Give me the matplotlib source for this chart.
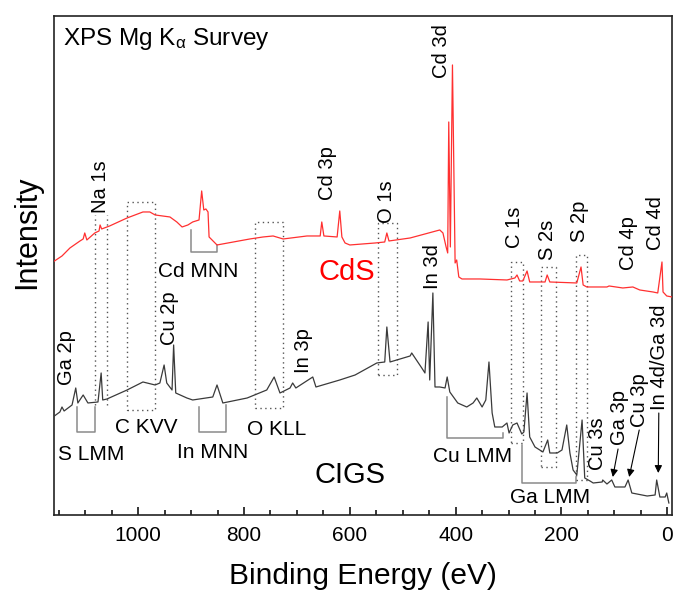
import matplotlib
matplotlib.use("Agg")
import matplotlib.pyplot as plt
from matplotlib.ticker import MultipleLocator

plt.rcParams["font.family"] = ["Liberation Sans", "DejaVu Sans"]
plt.rcParams["mathtext.fontset"] = "custom"
plt.rcParams["mathtext.rm"] = "Liberation Sans"
plt.rcParams["mathtext.it"] = "Liberation Sans"

# --- survey spectra: binding energy (eV) / intensity (a.u.) ---
cds_be = [1161, 1144, 1129, 1110, 1104, 1101, 1097, 1082, 1074, 1072,
          1069, 1054, 1021, 991, 978, 968, 940, 927, 917, 906,
          897, 885, 880, 876, 872, 868, 866, 851, 789, 764,
          745, 726, 681, 656, 653, 649, 624, 619, 615, 609,
          600, 552, 534, 530, 526, 486, 458, 430, 424, 418,
          415, 413, 410, 406, 401, 398, 394, 388, 354, 303,
          288, 284, 279, 273, 265, 260, 231, 227, 222, 171,
          163, 159, 152, 114, 110, 84, 65, 52, 27, 18,
          10, 8, 1, -9]
cds_int = [253, 259, 267, 274, 276, 282, 275, 282, 284, 290,
           286, 289, 297, 303, 303, 300, 298, 293, 288, 290,
           293, 295, 324, 305, 306, 303, 278, 270, 276, 278,
           279, 276, 279, 279, 293, 279, 278, 304, 278, 272,
           270, 272, 273, 282, 274, 277, 281, 285, 282, 268,
           262, 393, 268, 450, 252, 255, 238, 236, 236, 235,
           237, 240, 234, 234, 244, 233, 233, 240, 233, 232,
           248, 230, 228, 228, 229, 227, 228, 225, 223, 222,
           253, 223, 219, 218]

cigs_be = [1161, 1148, 1144, 1140, 1125, 1118, 1114, 1104, 1095, 1076,
           1070, 1067, 1059, 1021, 991, 968, 959, 951, 946, 936,
           933, 929, 908, 897, 859, 851, 840, 794, 757, 743,
           732, 713, 708, 702, 670, 664, 619, 590, 549, 534,
           530, 524, 486, 483, 464, 458, 452, 449, 443, 439,
           430, 420, 416, 411, 396, 379, 367, 360, 350, 343,
           337, 331, 326, 312, 303, 299, 292, 284, 275, 271,
           265, 260, 250, 235, 226, 222, 208, 199, 190, 184,
           178, 171, 161, 156, 146, 140, 123, 122, 114, 105,
           99, 80, 74, 67, 38, 23, 20, 14, 4, 1,
           -3]
cigs_int = [98, 103, 108, 104, 110, 127, 112, 120, 112, 113,
            142, 115, 116, 125, 133, 130, 132, 150, 132, 125,
            170, 122, 117, 115, 118, 130, 112, 117, 125, 138,
            122, 127, 132, 127, 138, 128, 135, 140, 152, 153,
            188, 153, 159, 162, 147, 142, 193, 135, 222, 128,
            128, 127, 138, 123, 112, 108, 112, 117, 108, 115,
            153, 102, 88, 88, 92, 82, 90, 92, 81, 83,
            122, 78, 68, 63, 75, 62, 62, 65, 90, 62,
            45, 40, 95, 37, 34, 32, 33, 35, 31, 35,
            28, 28, 35, 22, 19, 20, 35, 18, 18, 22,
            12]

# peak assignments (vertical labels): name, energy, lower end of label
peak_names = ["Na 1s", "Cd 3p", "O 1s", "Cd 3d", "In 3d", "C 1s", "S 2s",
              "S 2p", "Cd 4p", "Cd 4d", "Ga 2p", "Cu 2p", "In 3p", "Cu 3s",
              "Ga 3p", "Cu 3p", "In 4d/Ga 3d"]
peak_be = [1072, 643, 530, 426, 443, 288, 227, 165, 74, 23, 1135, 940, 687,
           132, 91, 52, 15]
peak_lo = [302, 315, 292, 437, 226, 267, 255, 273, 245, 265, 130, 170, 142,
           45, 70, 88, 105]

# Auger features: name, left edge energy, text baseline
auger_names = ["Cd MNN", "C KVV", "S LMM", "In MNN", "O KLL", "Cu LMM", "Ga LMM"]
auger_be = [963, 1044, 1152, 927, 795, 443, 297]
auger_base = [238, 82, 55, 57, 80, 53, 12]

# Auger brackets: left energy, right energy, left top, right top, bottom
bracket_l = [900, 1116, 885, 416, 275]
bracket_r = [851, 1082, 834, 311, 172]
bracket_lt = [285, 108, 108, 118, 70]
bracket_rt = [270, 108, 110, 82, 38]
bracket_bot = [263, 83, 83, 77, 32]

# dotted regions: left, right, bottom, top (Na 1s has no horizontal edges)
box_l = [1082, 1021, 779, 547, 295, 239, 172]
box_r = [1059, 968, 726, 511, 273, 210, 152]
box_b = [110, 105, 107, 140, 72, 48, 35]
box_t = [300, 313, 293, 292, 253, 248, 260]

# arrows to the weak CIGS lines: tail and head
arrow_x0 = [93, 53, 16]
arrow_y0 = [66, 85, 102]
arrow_x1 = [103, 72, 17]
arrow_y1 = [38, 38, 42]

fig, ax = plt.subplots(figsize=(6.75, 5.91), dpi=100)
fig.subplots_adjust(left=0.0793, right=0.9956, bottom=0.1286, top=0.973)

for i in range(len(box_l)):
    l, r, b, t = box_l[i], box_r[i], box_b[i], box_t[i]
    if i == 0:
        ax.plot([l, l], [b, t], ls=(0, (1, 2.5)), color="#555555", lw=1)
        ax.plot([r, r], [b, t], ls=(0, (1, 2.5)), color="#555555", lw=1)
    else:
        ax.plot([l, r, r, l, l], [b, b, t, t, b], ls=(0, (1, 2.5)),
                color="#555555", lw=1)

for i in range(len(bracket_l)):
    ax.plot([bracket_l[i], bracket_l[i], bracket_r[i], bracket_r[i]],
            [bracket_lt[i], bracket_bot[i], bracket_bot[i], bracket_rt[i]],
            color="#8a8a8a", lw=1.1)

ax.plot(cds_be, cds_int, color="#ff3030", lw=0.9, zorder=3)
ax.plot(cigs_be, cigs_int, color="#3a3a3a", lw=0.9, zorder=3)

for name, x, y in zip(peak_names, peak_be, peak_lo):
    ax.text(x, y, name, rotation=90, ha="center", va="bottom", fontsize=14.5)

for name, x, y in zip(auger_names, auger_be, auger_base):
    ax.text(x, y, name, ha="left", va="baseline", fontsize=15)

for i in range(len(arrow_x0)):
    ax.annotate("", xy=(arrow_x1[i], arrow_y1[i]),
                xytext=(arrow_x0[i], arrow_y0[i]),
                arrowprops=dict(arrowstyle="-|>", color="black", lw=0.8,
                                mutation_scale=11, shrinkA=0, shrinkB=0))

ax.text(605, 235, "CdS", color="#ff0000", fontsize=21, ha="center", va="baseline")
ax.text(599, 32, "CIGS", color="black", fontsize=21, ha="center", va="baseline")
ax.text(0.015, 0.942, "XPS Mg K$_\\alpha$ Survey", transform=ax.transAxes,
        fontsize=17.5, ha="left", va="baseline")

ax.set_xlim(1160, -9)
ax.set_ylim(0, 499)
ax.set_yticks([])
ax.xaxis.set_major_locator(MultipleLocator(200))
ax.xaxis.set_minor_locator(MultipleLocator(50))
ax.tick_params(axis="x", which="major", direction="in", length=6, width=1.1,
               labelsize=15, pad=8)
ax.tick_params(axis="x", which="minor", direction="in", length=3.5, width=1.1)
for s in ax.spines.values():
    s.set_linewidth(1.2)
    s.set_color("#222222")

ax.set_xlabel("Binding Energy (eV)", fontsize=21.5, labelpad=12)
ax.set_ylabel("Intensity", fontsize=22)
ax.yaxis.set_label_coords(-0.019, 0.566)

fig.savefig("out.png", dpi=100)
